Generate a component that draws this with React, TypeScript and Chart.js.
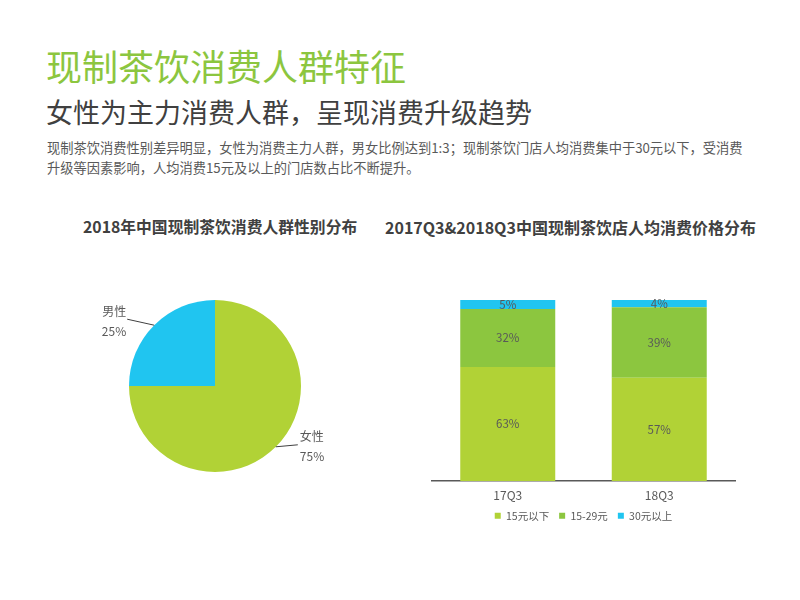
import React, { useEffect, useRef } from "react";
import { Chart, registerables } from "chart.js";

Chart.register(...registerables);

const FONT = '"Noto Sans CJK SC", "Noto Sans", sans-serif';

const pageTitle = "现制茶饮消费人群特征";
const pageSubtitle = "女性为主力消费人群，呈现消费升级趋势";
const pageDesc = [
  "现制茶饮消费性别差异明显，女性为消费主力人群，男女比例达到1:3；现制茶饮门店人均消费集中于30元以下，受消费",
  "升级等因素影响，人均消费15元及以上的门店数占比不断提升。",
];

const pieTitle = "2018年中国现制茶饮消费人群性别分布";
const pieLabels = ["女性", "男性"];
const pieValues = [75, 25];
const pieColors = ["#b1d236", "#20c5f0"];

const barTitle = "2017Q3&2018Q3中国现制茶饮店人均消费价格分布";
const barCategories = ["17Q3", "18Q3"];
const seriesNames = ["15元以下", "15-29元", "30元以上"];
const seriesLow = [63, 57];
const seriesMid = [32, 39];
const seriesHigh = [5, 4];
const seriesColors = ["#b1d236", "#8cc63f", "#20c5f0"];

const textGray = "#595959";

const pieLabelPlugin = {
  id: "pieLabels",
  afterDatasetsDraw(chart: any) {
    const ctx = chart.ctx;
    const meta = chart.getDatasetMeta(0);
    const data = chart.data.datasets[0].data;
    ctx.save();
    meta.data.forEach((arc: any, i: number) => {
      const { x, y, startAngle, endAngle, outerRadius } = arc.getProps(
        ["x", "y", "startAngle", "endAngle", "outerRadius"],
        true
      );
      const mid = (startAngle + endAngle) / 2;
      const px = x + Math.cos(mid) * outerRadius;
      const py = y + Math.sin(mid) * outerRadius;
      const side = Math.cos(mid) >= 0 ? 1 : -1;
      const ex = px + side * (side > 0 ? 22 : 27);
      const ey = py + (side > 0 ? -2 : -6);
      ctx.strokeStyle = "#404040";
      ctx.lineWidth = 1;
      ctx.beginPath();
      ctx.moveTo(px, py);
      ctx.lineTo(ex, ey);
      ctx.stroke();
      ctx.fillStyle = textGray;
      ctx.font = `12px ${FONT}`;
      ctx.textBaseline = "middle";
      ctx.textAlign = side > 0 ? "left" : "right";
      const tx = side > 0 ? ex + 2 : ex - 1;
      ctx.fillText(chart.data.labels[i], tx, ey - 8);
      ctx.fillText(`${data[i]}%`, tx, ey + 12);
    });
    ctx.restore();
  },
};

const barLabelPlugin = {
  id: "barLabels",
  afterDatasetsDraw(chart: any) {
    const ctx = chart.ctx;
    ctx.save();
    ctx.fillStyle = textGray;
    ctx.font = `11.5px ${FONT}`;
    ctx.textAlign = "center";
    ctx.textBaseline = "middle";
    chart.data.datasets.forEach((ds: any, di: number) => {
      const meta = chart.getDatasetMeta(di);
      meta.data.forEach((bar: any, i: number) => {
        const { x, y, base } = bar.getProps(["x", "y", "base"], true);
        ctx.fillText(`${ds.data[i]}%`, x, (y + base) / 2);
      });
    });
    ctx.restore();
  },
};

// move the legend a little closer to the axis labels
const legendShiftPlugin = {
  id: "legendShift",
  afterLayout(chart: any) {
    const l = chart.legend;
    if (l) {
      l.top -= 9;
      l.bottom -= 9;
    }
  },
};

function PieChart() {
  const ref = useRef<HTMLCanvasElement>(null);
  useEffect(() => {
    const chart = new Chart(ref.current!, {
      type: "pie",
      data: {
        labels: pieLabels,
        datasets: [
          {
            data: pieValues,
            backgroundColor: pieColors,
            borderWidth: 0,
          },
        ],
      },
      options: {
        animation: false,
        responsive: false,
        layout: { padding: { left: 69, right: 79, top: 20, bottom: 28 } },
        plugins: {
          legend: { display: false },
          tooltip: { enabled: false },
        },
      },
      plugins: [pieLabelPlugin],
    });
    return () => chart.destroy();
  }, []);
  return (
    <canvas
      ref={ref}
      width={320}
      height={220}
      style={{ position: "absolute", left: 60, top: 280, width: 320, height: 220 }}
    />
  );
}

function BarChart() {
  const ref = useRef<HTMLCanvasElement>(null);
  useEffect(() => {
    const chart = new Chart(ref.current!, {
      type: "bar",
      data: {
        labels: barCategories,
        datasets: [
          { label: seriesNames[0], data: seriesLow, backgroundColor: seriesColors[0] },
          { label: seriesNames[1], data: seriesMid, backgroundColor: seriesColors[1] },
          { label: seriesNames[2], data: seriesHigh, backgroundColor: seriesColors[2] },
        ],
      },
      options: {
        animation: false,
        responsive: false,
        layout: { padding: { left: 22, right: 35, top: 20, bottom: 1 } },
        datasets: {
          bar: { categoryPercentage: 1, barPercentage: 0.627, borderWidth: 0 },
        },
        scales: {
          x: {
            stacked: true,
            grid: { display: false, drawTicks: false },
            border: { display: true, color: "#595959", width: 1.5 },
            ticks: { color: textGray, font: { family: FONT, size: 12 }, padding: 7 },
          },
          y: {
            stacked: true,
            display: false,
            min: 0,
            max: 100,
          },
        },
        plugins: {
          tooltip: { enabled: false },
          legend: {
            position: "bottom",
            labels: {
              boxWidth: 6,
              boxHeight: 6,
              padding: 10,
              color: textGray,
              font: { family: FONT, size: 10.5 },
            },
          },
        },
      },
      plugins: [barLabelPlugin, legendShiftPlugin],
    });
    return () => chart.destroy();
  }, []);
  return (
    <canvas
      ref={ref}
      width={360}
      height={261}
      style={{ position: "absolute", left: 410, top: 280, width: 360, height: 261 }}
    />
  );
}

export default function App() {
  const abs = (extra: React.CSSProperties): React.CSSProperties => ({
    position: "absolute",
    whiteSpace: "nowrap",
    fontFamily: FONT,
    margin: 0,
    ...extra,
  });
  return (
    <div
      style={{
        position: "absolute",
        left: 0,
        top: 0,
        width: 800,
        height: 600,
        background: "#ffffff",
        overflow: "hidden",
      }}
    >
      <div style={abs({ left: 46, top: 44, fontSize: 36, lineHeight: "42px", color: "#8cc63f" })}>
        {pageTitle}
      </div>
      <div style={abs({ left: 46, top: 95, fontSize: 27, lineHeight: "34px", color: "#404040" })}>
        {pageSubtitle}
      </div>
      <div style={abs({ left: 47, top: 138, fontSize: 13.25, lineHeight: "20px", color: textGray })}>
        {pageDesc.map((l, i) => (
          <div key={i}>{l}</div>
        ))}
      </div>
      <div
        style={abs({
          left: 83,
          top: 216,
          fontSize: 15.8,
          lineHeight: "22px",
          fontWeight: "bold",
          color: "#404040",
        })}
      >
        {pieTitle}
      </div>
      <div
        style={abs({
          left: 385,
          top: 216,
          fontSize: 16,
          lineHeight: "22px",
          fontWeight: "bold",
          color: "#404040",
        })}
      >
        {barTitle}
      </div>
      <PieChart />
      <BarChart />
    </div>
  );
}
